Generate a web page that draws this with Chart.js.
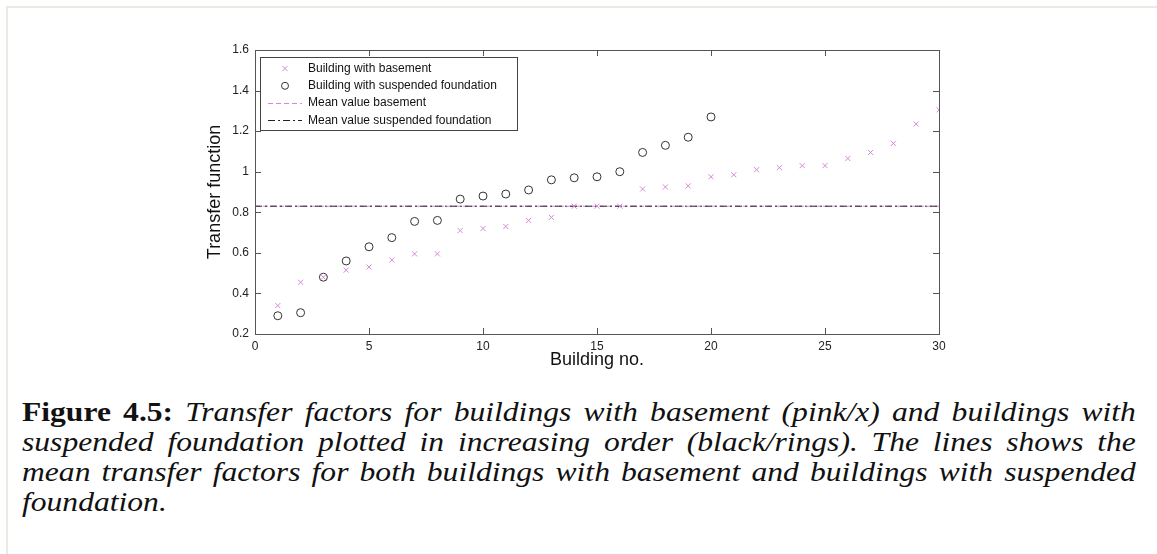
<!DOCTYPE html>
<html>
<head>
<meta charset="utf-8">
<script src="https://cdn.jsdelivr.net/npm/chart.js@4/dist/chart.umd.min.js"></script>
<style>
  html, body { margin: 0; padding: 0; background: #fff; }
  body { width: 1157px; height: 554px; position: relative; overflow: hidden; }
  #frame { position: absolute; left: 6px; top: 6px; width: 1160px; height: 560px;
           border-top: 2px solid #ece8e2; border-left: 2px solid #ece8e2; }
  #wrap { position: absolute; left: 0; top: 0; width: 1157px; height: 380px; }
  .cap { position: absolute; left: 22px; top: 397px; width: 952px;
         transform: scaleX(1.17); transform-origin: 0 0;
         font-family: "Liberation Serif", "DejaVu Serif", serif; font-size: 27px;
         line-height: 30px; color: #111; }
  .cap div { text-align: justify; text-align-last: justify; white-space: nowrap; }
  .cap div.last { text-align-last: left; }
  .cap b { font-weight: bold; font-style: normal; }
  .cap i { font-style: italic; }
</style>
</head>
<body>
<div id="frame"></div>
<div id="wrap"><canvas id="myChart" width="1157" height="380"></canvas></div>
<div class="cap">
  <div><b>Figure 4.5:</b> <i>Transfer factors for buildings with basement (pink/x) and buildings with</i></div>
  <div><i>suspended foundation plotted in increasing order (black/rings). The lines shows the</i></div>
  <div><i>mean transfer factors for both buildings with basement and buildings with suspended</i></div>
  <div class="last"><i>foundation.</i></div>
</div>
<script>
// building numbers
const basementNo = [1,2,3,4,5,6,7,8,9,10,11,12,13,14,15,16,17,18,19,20,21,22,23,24,25,26,27,28,29,30]
const suspendedNo = [1,2,3,4,5,6,7,8,9,10,11,12,13,14,15,16,17,18,19,20]

// transfer function values (sorted)
const basement = [0.34,0.455,0.48,0.515,0.53,0.565,0.595,0.595,0.71,0.72,0.73,0.76,0.775,0.83,0.83,
  0.83,0.915,0.925,0.93,0.975,0.985,1.01,1.02,1.03,1.03,1.065,1.095,1.14,1.235,1.305]
const suspended = [0.29,0.305,0.48,0.56,0.63,0.675,0.755,0.76,0.865,0.88,0.89,0.91,0.96,0.97,0.975,
  1.0,1.095,1.13,1.17,1.27]

const meanBasement = 0.83
const meanSuspended = 0.83

const xRange = [0, 30]
const xTicks = [0,5,10,15,20,25,30]
const yTicks = [0.2,0.4,0.6,0.8,1,1.2,1.4,1.6]

const pink = '#d886d8'
const ink = '#333'
const sans = '"Liberation Sans", Arial, sans-serif'

const toPts = (xs, ys) => xs.map((x, i) => ({x: x, y: ys[i]}))
const flat = (v) => xRange.map(x => ({x: x, y: v}))

// box + inward ticks, matlab style
const boxTicks = {
  id: 'boxTicks',
  afterDatasetsDraw(chart) {
    const {ctx, chartArea: a, scales} = chart
    ctx.save()
    ctx.strokeStyle = '#555'
    ctx.lineWidth = 1
    ctx.strokeRect(Math.round(a.left) + 0.5, Math.round(a.top) + 0.5,
      Math.round(a.right - a.left), Math.round(a.bottom - a.top))
    const len = 6
    ctx.beginPath()
    xTicks.forEach(v => {
      const px = Math.round(scales.x.getPixelForValue(v)) + 0.5
      ctx.moveTo(px, a.bottom); ctx.lineTo(px, a.bottom - len)
      ctx.moveTo(px, a.top); ctx.lineTo(px, a.top + len)
    })
    yTicks.forEach(v => {
      const py = Math.round(scales.y.getPixelForValue(v)) + 0.5
      ctx.moveTo(a.left, py); ctx.lineTo(a.left + len, py)
      ctx.moveTo(a.right, py); ctx.lineTo(a.right - len, py)
    })
    ctx.stroke()
    ctx.restore()
  },
  afterDraw(chart) {
    // legend box in the top-left corner
    const {ctx, chartArea: a} = chart
    const bx = a.left + 5, by = a.top + 7, bw = 257, bh = 73
    ctx.save()
    ctx.fillStyle = '#fff'
    ctx.fillRect(bx, by, bw, bh)
    ctx.strokeStyle = '#444'
    ctx.lineWidth = 1
    ctx.strokeRect(bx + 0.5, by + 0.5, bw, bh)
    const rows = [
      {label: chart.data.datasets[0].label, kind: 'x'},
      {label: chart.data.datasets[1].label, kind: 'o'},
      {label: chart.data.datasets[2].label, kind: 'dash'},
      {label: chart.data.datasets[3].label, kind: 'dashdot'}
    ]
    const sx = bx + 25, lx0 = bx + 8, lx1 = bx + 42, tx = bx + 48
    ctx.font = '12px ' + sans
    ctx.textBaseline = 'middle'
    rows.forEach((r, i) => {
      const y = by + 11.5 + i * 17.3
      ctx.lineWidth = 1
      if (r.kind === 'x') {
        ctx.strokeStyle = pink
        ctx.beginPath()
        ctx.moveTo(sx - 2.5, y - 2.5); ctx.lineTo(sx + 2.5, y + 2.5)
        ctx.moveTo(sx - 2.5, y + 2.5); ctx.lineTo(sx + 2.5, y - 2.5)
        ctx.stroke()
      } else if (r.kind === 'o') {
        ctx.strokeStyle = ink
        ctx.beginPath(); ctx.arc(sx, y, 3.5, 0, Math.PI * 2); ctx.stroke()
      } else {
        ctx.strokeStyle = r.kind === 'dash' ? pink : '#222'
        ctx.setLineDash(r.kind === 'dash' ? [5, 3] : [7, 3, 2, 3])
        ctx.beginPath(); ctx.moveTo(lx0, Math.round(y) + 0.5); ctx.lineTo(lx1, Math.round(y) + 0.5); ctx.stroke()
        ctx.setLineDash([])
      }
      ctx.fillStyle = '#111'
      ctx.fillText(r.label, tx, y)
    })
    ctx.restore()
  }
}

const ctx = document.getElementById('myChart').getContext('2d')
const myChart = new Chart(ctx, {
  type: 'scatter',
  data: {
    datasets: [{
      label: 'Building with basement',
      data: toPts(basementNo, basement),
      pointStyle: 'crossRot',
      pointRadius: 3.6,
      borderColor: pink,
      borderWidth: 1,
      order: 0
    }, {
      label: 'Building with suspended foundation',
      data: toPts(suspendedNo, suspended),
      pointStyle: 'circle',
      pointRadius: 4,
      borderColor: ink,
      backgroundColor: 'rgba(0,0,0,0)',
      borderWidth: 1,
      order: 0
    }, {
      type: 'line',
      label: 'Mean value basement',
      data: flat(meanBasement),
      borderColor: pink,
      borderWidth: 1,
      borderDash: [5, 3],
      pointRadius: 0,
      order: 2
    }, {
      type: 'line',
      label: 'Mean value suspended foundation',
      data: flat(meanSuspended),
      borderColor: '#222',
      borderWidth: 1,
      borderDash: [7, 3, 2, 3],
      pointRadius: 0,
      order: 1
    }]
  },
  options: {
    responsive: false,
    animation: false,
    layout: { padding: { left: 190, right: 218, top: 50, bottom: 0 } },
    plugins: { legend: { display: false }, tooltip: { enabled: false } },
    scales: {
      x: {
        type: 'linear',
        min: xRange[0], max: xRange[1],
        afterBuildTicks: s => { s.ticks = xTicks.map(v => ({value: v})) },
        afterFit: s => { s.height = 46 },
        grid: { display: false, drawTicks: false },
        border: { display: false },
        ticks: { font: { family: sans, size: 12 }, color: '#222', padding: 5, maxRotation: 0,
                 callback: v => String(v) },
        title: { display: true, text: 'Building no.', font: { family: sans, size: 18 }, color: '#111',
                 padding: { top: 0, bottom: 9 } }
      },
      y: {
        min: yTicks[0], max: yTicks[yTicks.length - 1],
        afterBuildTicks: s => { s.ticks = yTicks.map(v => ({value: v})) },
        afterFit: s => { s.width = 65 },
        grid: { display: false, drawTicks: false },
        border: { display: false },
        ticks: { font: { family: sans, size: 12 }, color: '#222', padding: 6,
                 callback: v => String(+v.toFixed(1)) },
        title: { display: true, text: 'Transfer function', font: { family: sans, size: 18 }, color: '#111',
                 padding: { top: 14, bottom: 0 } }
      }
    }
  },
  plugins: [boxTicks]
})
</script>
</body>
</html>
